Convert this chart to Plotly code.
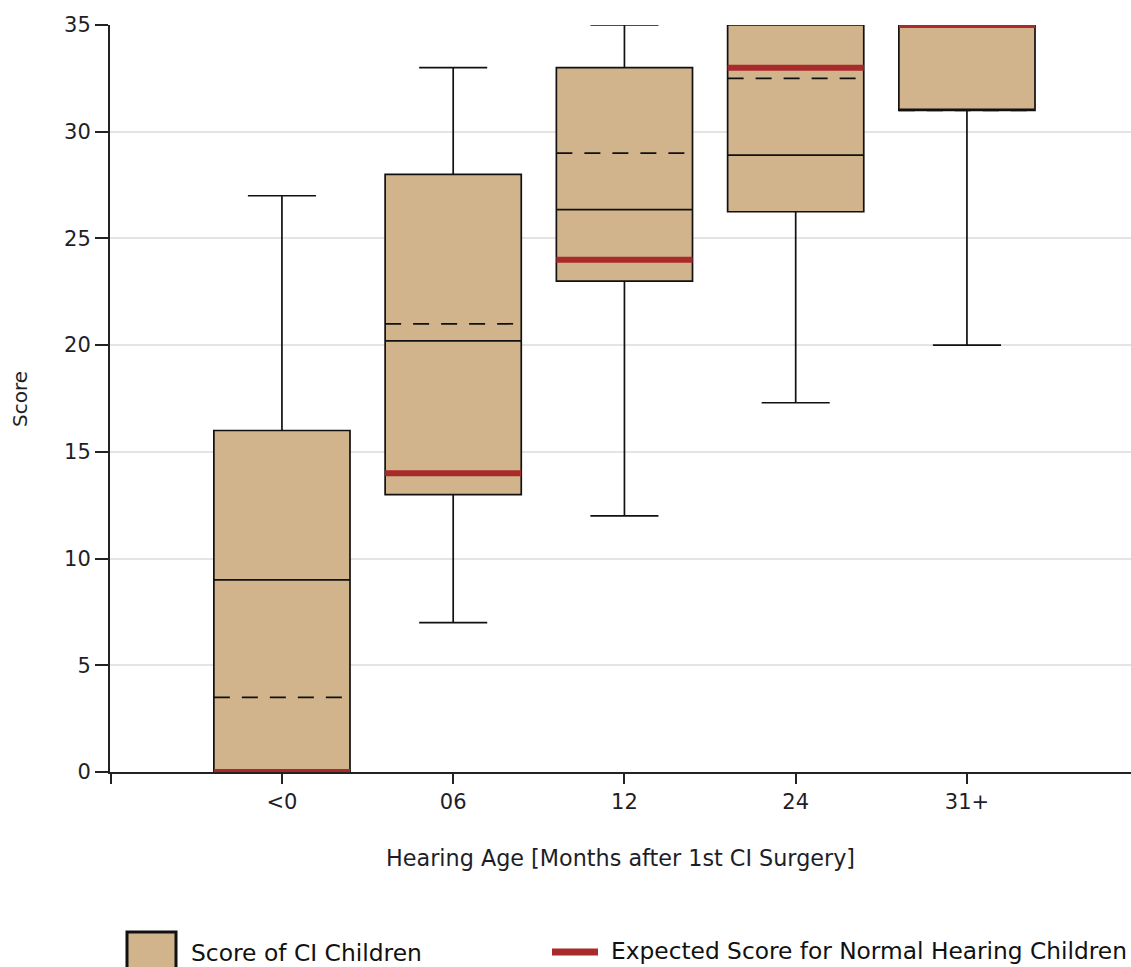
import plotly.graph_objects as go

# Score distribution per hearing-age group
categories = ["<0", "06", "12", "24", "31+"]
q1 = [0, 13, 23, 26.25, 31]
median = [9, 20.2, 26.35, 28.9, 31]
q3 = [16, 28, 33, 35, 35]
lower_whisker = [0, 7, 12, 17.3, 20]
upper_whisker = [27, 33, 35, 35, 35]
mean = [3.5, 21, 29, 32.5, 31]
expected = [0, 14, 24, 33, 35]

W, H = 1131, 967
L, R, T, B = 110, 0, 25, 195
PW, PH = W - L - R, H - T - B

FONT = "DejaVu Sans, Verdana, sans-serif"
TXT = "#1e1e28"
TAN = "#d2b48c"
RED = "#a82a2a"
BOX_W = 0.795

xpos = list(range(len(categories)))


def seg_xy(values):
    xs, ys = [], []
    for i, v in zip(xpos, values):
        xs += [i - BOX_W / 2, i + BOX_W / 2, None]
        ys += [v, v, None]
    return xs, ys


def px(x):
    return (x - L) / PW


def py(y):
    return (H - B - y) / PH


fig = go.Figure()

fig.add_trace(go.Box(
    x=xpos, q1=q1, median=median, q3=q3,
    lowerfence=lower_whisker, upperfence=upper_whisker,
    width=BOX_W, whiskerwidth=0.5, boxpoints=False,
    fillcolor=TAN, line=dict(color="#111111", width=1.7),
    hoverinfo="skip", showlegend=False,
))

mx, my = seg_xy(mean)
fig.add_trace(go.Scatter(
    x=mx, y=my, mode="lines",
    line=dict(color="#111111", width=1.7, dash="16px,12px"),
    hoverinfo="skip", showlegend=False,
))

ex, ey = seg_xy(expected)
fig.add_trace(go.Scatter(
    x=ex, y=ey, mode="lines",
    line=dict(color=RED, width=6),
    hoverinfo="skip", showlegend=False,
))

fig.update_xaxes(
    range=[-1.004, 4.958],
    tickvals=[-1] + xpos, ticktext=[""] + categories,
    showgrid=False, zeroline=False,
    showline=True, linecolor="#222222", linewidth=2,
    ticks="outside", ticklen=10, tickwidth=2, tickcolor="#222222",
    tickfont=dict(family=FONT, size=21, color=TXT),
)
fig.update_yaxes(
    range=[0, 35], tickvals=[0, 5, 10, 15, 20, 25, 30, 35],
    showgrid=True, gridcolor="#e4e4e4", gridwidth=2,
    zeroline=False,
    showline=True, linecolor="#222222", linewidth=2,
    ticks="outside", ticklen=13, tickwidth=2, tickcolor="#222222",
    tickfont=dict(family=FONT, size=21, color=TXT),
)

annotations = [
    dict(text="Hearing Age [Months after 1st CI Surgery]", x=0.5, y=py(858),
         xref="paper", yref="paper", xanchor="center", yanchor="middle",
         showarrow=False, font=dict(family=FONT, size=22.3, color=TXT)),
    dict(text="Score", x=px(20), y=py(399), textangle=-90,
         xref="paper", yref="paper", xanchor="center", yanchor="middle",
         showarrow=False, font=dict(family=FONT, size=20, color=TXT)),
    dict(text="Score of CI Children", x=px(189), y=py(953),
         xref="paper", yref="paper", xanchor="left", yanchor="middle",
         showarrow=False, font=dict(family=FONT, size=23.4, color="#111111")),
    dict(text="Expected Score for Normal Hearing Children", x=px(609), y=py(950),
         xref="paper", yref="paper", xanchor="left", yanchor="middle",
         showarrow=False, font=dict(family=FONT, size=23.3, color="#111111")),
]

shapes = [
    dict(type="rect", xref="paper", yref="paper",
         x0=px(127), x1=px(176), y0=py(932), y1=py(975),
         fillcolor=TAN, line=dict(color="#111111", width=3)),
    dict(type="line", xref="paper", yref="paper",
         x0=px(552), x1=px(598), y0=py(952), y1=py(952),
         line=dict(color=RED, width=7)),
]

fig.update_layout(
    width=W, height=H,
    margin=dict(l=L, r=R, t=T, b=B),
    paper_bgcolor="white", plot_bgcolor="white",
    showlegend=False,
    annotations=annotations, shapes=shapes,
)

fig.write_html("out.html", config={"displayModeBar": False})
